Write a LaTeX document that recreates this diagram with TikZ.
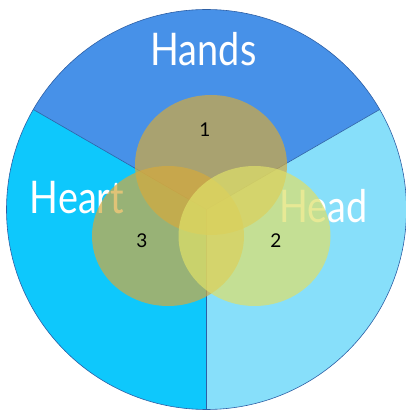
\documentclass[tikz,border=0pt]{standalone}
\usepackage{fontspec}
\setmainfont{Lato}
\usepackage{xcolor}
\definecolor{hhhands}{RGB}{71,145,232}
\definecolor{hhheart}{RGB}{14,200,252}
\definecolor{hhhead}{RGB}{135,223,250}
\definecolor{hhline}{RGB}{45,95,165}
\definecolor{hhgold}{RGB}{212,170,62}
\definecolor{hhyellow}{RGB}{222,224,105}
\usetikzlibrary{positioning}

\begin{document}
\begin{tikzpicture}[x=1pt,y=1pt,
  sector/.style={line width=0.6pt,hhline},
  bigword/.style={text=white,xscale=0.84,font=\fontsize{45}{45}\selectfont},
  blob/.style={fill opacity=0.7},
  num/.style={text=black,font=\fontsize{19}{19}\selectfont}]
  \useasboundingbox (0,0) rectangle (406,410);
  \coordinate (c) at (206.5,200.5);
  \fill[hhhands] (c) -- ++(30:200) arc[start angle=30,end angle=150,radius=200] -- cycle;
  \fill[hhheart] (c) -- ++(150:200) arc[start angle=150,end angle=270,radius=200] -- cycle;
  \fill[hhhead] (c) -- ++(270:200) arc[start angle=270,end angle=390,radius=200] -- cycle;
  \draw[sector] (c) circle (200);
  \foreach \a in {30,150,270}{\draw[sector] (c) -- ++(\a:200);}
  \node[bigword] (hands) at (203.5,361) {Hands};
  \node[bigword] (heart) at (77,212) {Heart};
  \node[bigword] (head) at (323.5,204) {Head};
  \fill[blob,hhgold] (211,245) ellipse (76 and 70);
  \fill[blob,hhgold] (168,174) ellipse (76 and 70);
  \fill[blob,hhyellow] (254.5,174) ellipse (76 and 70);
  \node[num] (n1) at (205,280) {1};
  \node[num] (n3) at (142,169) {3};
  \node[num] (n2) at (276,169) {2};
\end{tikzpicture}
\end{document}
